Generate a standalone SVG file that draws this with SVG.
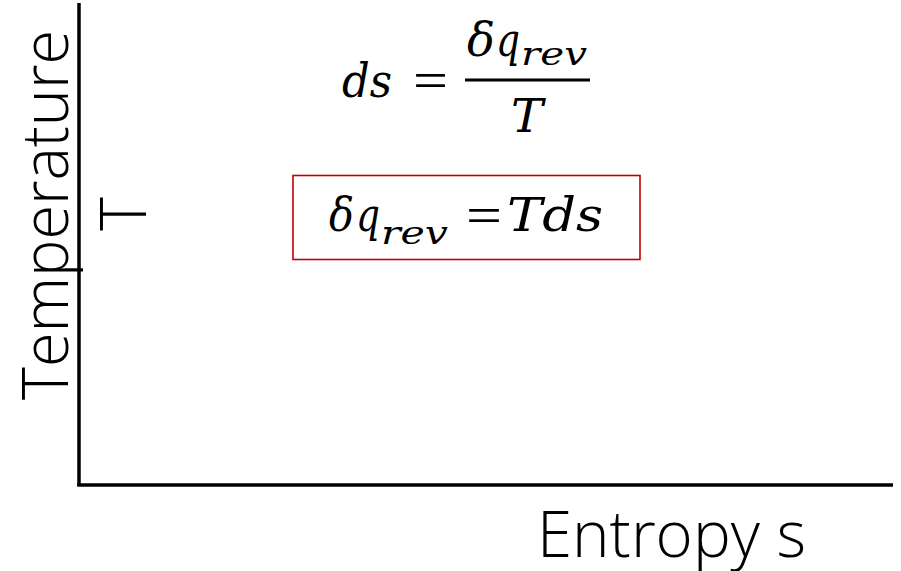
<svg xmlns="http://www.w3.org/2000/svg" width="901" height="571" viewBox="0 0 901 571">
<style>
.axis{stroke:#000;stroke-width:3.5;fill:none}
.lbl{font-family:"Open Sans","Noto Sans","Liberation Sans",sans-serif;font-weight:300;font-size:64px;fill:#000}
.m{font-family:"DejaVu Serif","Liberation Serif",serif;font-style:italic;font-size:46px;fill:#000}
.sub{font-family:"DejaVu Serif","Liberation Serif",serif;font-style:italic;font-size:31px;fill:#000}
.op{font-family:"Liberation Serif","DejaVu Serif",serif;font-size:52px;fill:#000}
.box{fill:none;stroke:#C00000;stroke-width:1.6}
</style>
<rect width="901" height="571" fill="#fff"/>
<g id="axes">
<line class="axis" x1="79" y1="3" x2="79" y2="486"/>
<line class="axis" x1="77.25" y1="485" x2="893" y2="485"/>
</g>
<g id="y-label">
<text class="lbl" transform="translate(68,215) rotate(-90)" text-anchor="middle" textLength="370" lengthAdjust="spacingAndGlyphs">Temperature</text>
<text class="lbl" transform="translate(146,214) rotate(-90)" text-anchor="middle">T</text>
</g>
<g id="x-label">
<text class="lbl" x="537" y="557" font-size="63" textLength="269" lengthAdjust="spacingAndGlyphs">Entropy s</text>
</g>
<g id="eq1">
<text class="m" x="342" y="97" textLength="50" lengthAdjust="spacingAndGlyphs">ds</text>
<text class="op" x="413" y="98" textLength="35" lengthAdjust="spacingAndGlyphs">=</text>
<text class="m" x="467" y="56" textLength="28" lengthAdjust="spacingAndGlyphs">δ</text>
<text class="m" x="496" y="56" textLength="24" lengthAdjust="spacingAndGlyphs">q</text>
<text class="sub" x="521" y="65" textLength="66" lengthAdjust="spacingAndGlyphs">rev</text>
<line x1="465" y1="80" x2="590" y2="80" stroke="#000" stroke-width="3"/>
<text class="m" x="511" y="132" textLength="32" lengthAdjust="spacingAndGlyphs">T</text>
</g>
<g id="eq2">
<rect class="box" x="293" y="175.5" width="347" height="84"/>
<text class="m" x="329" y="231" textLength="25" lengthAdjust="spacingAndGlyphs">δ</text>
<text class="m" x="356" y="231" textLength="24" lengthAdjust="spacingAndGlyphs">q</text>
<text class="sub" x="381" y="244" textLength="67" lengthAdjust="spacingAndGlyphs">rev</text>
<text class="op" x="466" y="233" textLength="36" lengthAdjust="spacingAndGlyphs">=</text>
<text class="m" x="507" y="231" textLength="96" lengthAdjust="spacingAndGlyphs">Tds</text>
</g>
</svg>
